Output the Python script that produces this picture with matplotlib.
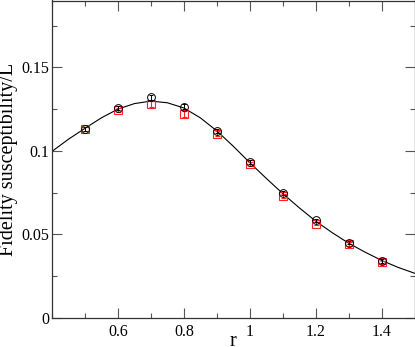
import matplotlib
matplotlib.use("Agg")
import matplotlib.pyplot as plt
from matplotlib.ticker import MultipleLocator, FixedLocator

plt.rcParams['font.family'] = ['Liberation Serif', 'DejaVu Serif']

# data
r_pts = [0.5, 0.6, 0.7, 0.8, 0.9, 1.0, 1.1, 1.2, 1.3, 1.4]
circ = [0.1133, 0.1255, 0.1320, 0.1265, 0.1122, 0.0935, 0.0748, 0.0585, 0.0450, 0.0341]
circ_err = [0.0012, 0.0012, 0.0015, 0.0015, 0.0012, 0.0012, 0.0012, 0.0010, 0.0010, 0.0010]
sq = [0.1133, 0.1247, 0.1278, 0.1220, 0.1104, 0.0920, 0.0730, 0.0565, 0.0443, 0.0333]
sq_err = [0.0012, 0.0012, 0.0018, 0.0018, 0.0014, 0.0012, 0.0012, 0.0010, 0.0010, 0.0010]

r_curve = [0.40, 0.45, 0.50, 0.55, 0.60, 0.65, 0.70, 0.75, 0.80, 0.85, 0.90, 0.95,
           1.00, 1.05, 1.10, 1.15, 1.20, 1.25, 1.30, 1.35, 1.40, 1.45, 1.50]
curve = [0.0997, 0.1070, 0.1135, 0.1198, 0.1250, 0.1283, 0.1298, 0.1288, 0.1257, 0.1198,
         0.1120, 0.1028, 0.0930, 0.0836, 0.0745, 0.0660, 0.0580, 0.0511, 0.0448, 0.0394,
         0.0345, 0.0303, 0.0268]

x_ticks = [0.6, 0.8, 1.0, 1.2, 1.4]
x_ticklabels = ['0.6', '0.8', '1', '1.2', '1.4']
y_ticks = [0, 0.05, 0.10, 0.15]
y_ticklabels = ['0', '0.05', '0.1', '0.15']

W, H = 415, 347
fig = plt.figure(figsize=(W / 100, H / 100), dpi=100)
ax = fig.add_axes([52 / W, 29 / H, 362.5 / W, 317.5 / H])

ax.plot(r_curve, curve, color='black', lw=0.8, zorder=2)
ax.errorbar(r_pts, sq, yerr=sq_err, fmt='s', ms=5.2, mfc='none', mec='#ff2020',
            mew=0.8, ecolor='#ff2020', elinewidth=0.8, capsize=1.8, capthick=0.8, zorder=3)
ax.errorbar(r_pts, circ, yerr=circ_err, fmt='o', ms=5.6, mfc='none', mec='black',
            mew=0.7, ecolor='black', elinewidth=0.7, capsize=1.5, capthick=0.7, zorder=4)

ax.set_xlim(0.4, 1.5)
ax.set_ylim(0, 0.19)
ax.xaxis.set_major_locator(FixedLocator(x_ticks))
ax.set_xticklabels(x_ticklabels)
ax.xaxis.set_minor_locator(MultipleLocator(0.1))
ax.yaxis.set_major_locator(FixedLocator(y_ticks))
ax.set_yticklabels(y_ticklabels)
ax.yaxis.set_minor_locator(MultipleLocator(0.025))

ax.tick_params(which='both', direction='in', top=True, right=True, width=0.8, color='#555555')
ax.tick_params(which='major', length=7, labelsize=11.5)
ax.tick_params(which='minor', length=3.8)
ax.tick_params(axis='y', which='major', pad=2)
ax.tick_params(axis='x', which='major', pad=4)
for s in ax.spines.values():
    s.set_linewidth(0.9)
    s.set_color('#333333')

ax.set_xlabel('r', fontsize=14.5)
ax.set_ylabel('Fidelity susceptibility/L', fontsize=14.5)
ax.xaxis.set_label_coords(0.5, (318 - 332) / 317.5)
ax.yaxis.set_label_coords((18 - 52) / 362.5, 0.5)

fig.savefig('out.png', dpi=100)
